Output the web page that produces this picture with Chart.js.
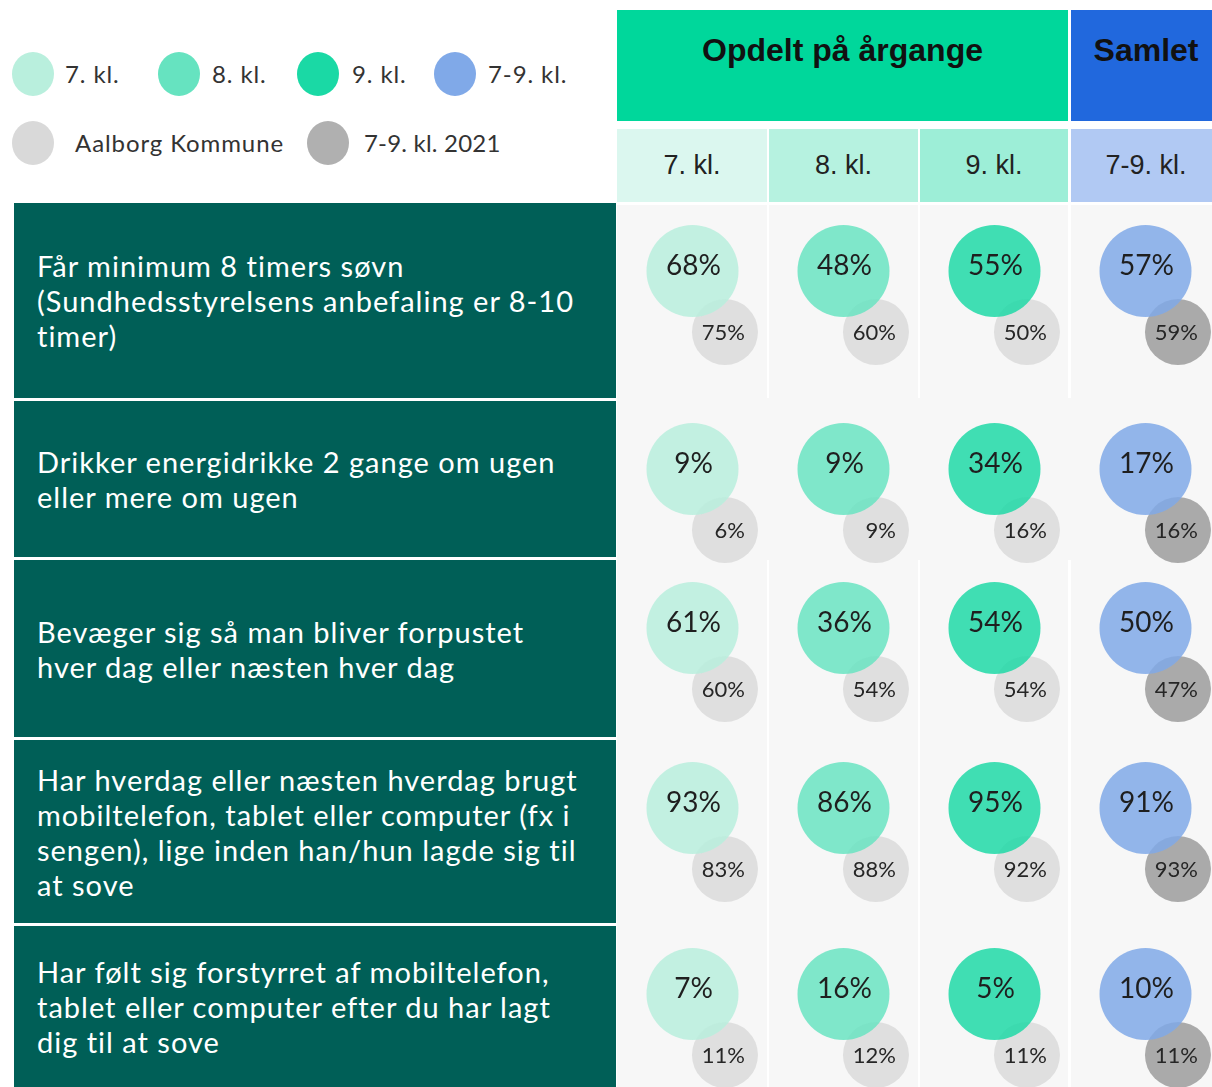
<!DOCTYPE html>
<html><head><meta charset="utf-8">
<script src="https://cdn.jsdelivr.net/npm/chart.js@4/dist/chart.umd.min.js"></script>
<style>
html,body{margin:0;padding:0;background:#fff;width:1212px;height:1087px;overflow:hidden;}
body{position:relative;font-family:Lato,"Noto Sans",sans-serif;}
.abs{position:absolute;box-sizing:border-box;}
.lg-dot{position:absolute;border-radius:50%;}
.lg-txt{position:absolute;font-size:24px;color:#333;white-space:nowrap;line-height:26px;letter-spacing:0.9px;}
.head{font-family:"Liberation Sans",Arial,sans-serif;font-weight:bold;font-size:32px;color:#111;text-align:center;line-height:40px;padding-top:20px;}
.sub{font-family:"Liberation Sans",Arial,sans-serif;font-size:27px;color:#222;text-align:center;display:flex;align-items:center;justify-content:center;}
.qrow{background:#005f57;color:#fff;font-size:29px;line-height:35px;padding-left:23px;display:flex;align-items:center;white-space:pre;letter-spacing:1px;}
canvas{position:absolute;}
</style></head><body>
<script>
// ---------- DATA ----------
const groups = ['7. kl.', '8. kl.', '9. kl.', '7-9. kl.'];
const headerTitles = ['Opdelt på årgange', 'Samlet'];
const questions = [
  'Får minimum 8 timers søvn\n(Sundhedsstyrelsens anbefaling er 8-10\ntimer)',
  'Drikker energidrikke 2 gange om ugen\neller mere om ugen',
  'Bevæger sig så man bliver forpustet\nhver dag eller næsten hver dag',
  'Har hverdag eller næsten hverdag brugt\nmobiltelefon, tablet eller computer (fx i\nsengen), lige inden han/hun lagde sig til\nat sove',
  'Har følt sig forstyrret af mobiltelefon,\ntablet eller computer efter du har lagt\ndig til at sove'
];
const values7   = [68, 9, 61, 93, 7];
const values8   = [48, 9, 36, 86, 16];
const values9   = [55, 34, 54, 95, 5];
const values79  = [57, 17, 50, 91, 10];
const aalborg7  = [75, 6, 60, 83, 11];
const aalborg8  = [60, 9, 54, 88, 12];
const aalborg9  = [50, 16, 54, 92, 11];
const total2021 = [59, 16, 47, 93, 11];
const compareNames = ['Aalborg Kommune', '7-9. kl. 2021'];

// ---------- STYLE / LAYOUT ----------
const legendColors = ['#b9efdd', '#66e3c0', '#1ad9a5', '#80a9e8', '#d9d9d9', '#b0b0b0'];
const bubbleColors = ['rgba(185,239,221,0.85)', 'rgba(102,227,192,0.83)', 'rgba(26,217,165,0.83)', 'rgba(128,169,232,0.85)'];
const grayColor = 'rgba(214,214,214,0.72)';
const darkGrayColor = 'rgba(150,150,150,0.8)';
const subColors = ['#dbf7ef', '#b6f2e0', '#9deed7', '#b1c9f3'];
const colX = [617, 769, 920, 1071];
const colW = [150, 149, 148, 150];
const rowTop = [203, 401, 560, 740, 926];
const rowH = [195, 156, 177, 183, 161];
const legendLayout = [
  {cx:33, cy:74, tx:65}, {cx:179, cy:74, tx:212}, {cx:318, cy:74, tx:352}, {cx:455, cy:74, tx:488},
  {cx:33, cy:143, tx:75}, {cx:328, cy:143, tx:364}
];
const MAIN_R = 46, GRAY_R = 33;
const MAIN_FROM_TOP = 68, GRAY_DY = 61;   // px
const GRAY_DX = 0.215;                      // in column units
const CHART_LEFT = 617, OVERFLOW = 40;

function el(cls, css, html){
  const d = document.createElement('div');
  d.className = cls;
  Object.assign(d.style, css);
  if (html !== undefined) d.textContent = html;
  document.body.appendChild(d);
  return d;
}

// Legend
const legendNames = groups.concat(compareNames);
legendNames.forEach((n, i) => {
  const L = legendLayout[i];
  el('lg-dot', {left:(L.cx-21)+'px', top:(L.cy-22)+'px', width:'42px', height:'44px', background:legendColors[i]});
  el('lg-txt', {left:L.tx+'px', top:(L.cy-13)+'px', letterSpacing: i === 5 ? '0.2px' : ''}, n);
});

// Header
el('abs head', {left:'617px', top:'10px', width:'451px', height:'111px', background:'#00d79b'}, headerTitles[0]);
el('abs head', {left:'1071px', top:'10px', width:'150px', height:'111px', background:'#2168dd'}, headerTitles[1]);
groups.forEach((g, i) => {
  el('abs sub', {left:colX[i]+'px', top:'129px', width:colW[i]+'px', height:'73px', background:subColors[i]}, g);
});

// Data background + question rows
questions.forEach((q, r) => {
  el('abs qrow', {left:'14px', top:rowTop[r]+'px', width:'602px', height:rowH[r]+'px'}, q);
  const bgTop = r === 0 ? rowTop[r] + 2 : rowTop[r] - 3;
  const bgH = rowH[r] + (r === 0 ? 1 : 6);
  if (r === 1) {
    el('abs', {left:'617px', top:bgTop+'px', width:'604px', height:bgH+'px', background:'#f7f7f7'});
  } else {
    groups.forEach((g, c) => {
      el('abs', {left:colX[c]+'px', top:bgTop+'px', width:colW[c]+'px', height:bgH+'px', background:'#f7f7f7'});
    });
  }
});

// Labels plugin
const labelPlugin = {
  id: 'bubbleLabels',
  afterDatasetsDraw(chart) {
    const ctx = chart.ctx;
    ctx.save();
    ctx.textBaseline = 'middle';
    chart.data.datasets.forEach((ds, di) => {
      const meta = chart.getDatasetMeta(di);
      meta.data.forEach((pt, j) => {
        const v = ds.data[j].v + '%';
        if (ds.isCompare) {
          ctx.font = '22px Lato, "Noto Sans", sans-serif';
          ctx.fillStyle = '#262626';
          ctx.textAlign = 'right';
          ctx.fillText(v, pt.x + 20, pt.y + 1);
        } else {
          ctx.font = '28px Lato, "Noto Sans", sans-serif';
          ctx.fillStyle = '#1f1f1f';
          ctx.textAlign = 'center';
          ctx.fillText(v, pt.x + 1, pt.y - 5);
        }
      });
    });
    ctx.restore();
  }
};

const mainSeries = [values7, values8, values9, values79];
const graySeries = [aalborg7, aalborg8, aalborg9];

questions.forEach((q, r) => {
  const H = rowH[r] + OVERFLOW;
  const cv = document.createElement('canvas');
  cv.width = 604; cv.height = H;
  cv.style.left = CHART_LEFT + 'px';
  cv.style.top = rowTop[r] + 'px';
  document.body.appendChild(cv);
  // y: main at 1, comparison at 0
  const yMax = 1 + MAIN_FROM_TOP / GRAY_DY;
  const yMin = -(H - MAIN_FROM_TOP - GRAY_DY) / GRAY_DY;
  const datasets = mainSeries.map((arr, c) => ({
    label: groups[c],
    data: [{x: c, y: 1, v: arr[r]}],
    backgroundColor: bubbleColors[c],
    borderWidth: 0,
    radius: MAIN_R,
    clip: false
  }));
  datasets.push({
    label: compareNames[0], isCompare: true,
    data: graySeries.map((arr, c) => ({x: c + GRAY_DX, y: 0, v: arr[r]})),
    backgroundColor: grayColor, borderWidth: 0, radius: GRAY_R, clip: false
  });
  datasets.push({
    label: compareNames[1], isCompare: true,
    data: [{x: 3 + GRAY_DX, y: 0, v: total2021[r]}],
    backgroundColor: darkGrayColor, borderWidth: 0, radius: GRAY_R, clip: false
  });
  new Chart(cv, {
    type: 'bubble',
    data: {datasets},
    options: {
      responsive: false, animation: false, devicePixelRatio: 1,
      events: [],
      layout: {padding: 0, autoPadding: false},
      plugins: {legend: {display: false}, tooltip: {enabled: false}},
      scales: {
        x: {type: 'linear', min: -0.5, max: 3.5, display: false},
        y: {type: 'linear', min: yMin, max: yMax, display: false}
      }
    },
    plugins: [labelPlugin]
  });
});
</script>
</body></html>
